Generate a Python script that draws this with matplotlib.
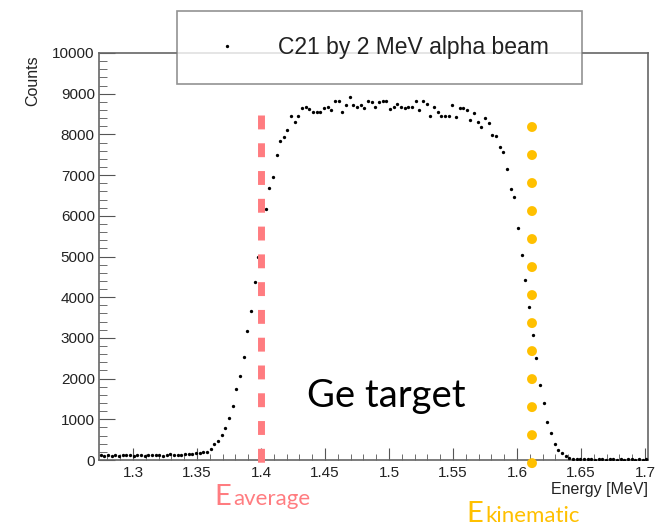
import numpy as np
import matplotlib
matplotlib.use("Agg")
import matplotlib.pyplot as plt
from matplotlib.ticker import MultipleLocator, FuncFormatter

# histogram binning (MeV)
e_min, e_max, n_bins = 1.2734, 1.7023, 150

# counts per bin
counts = [
    120, 110, 115, 105, 120, 110, 125, 130, 115, 110,
    120, 125, 110, 120, 130, 115, 125, 105, 130, 140,
    125, 135, 130, 140, 145, 150, 175, 180, 185,
    # rising edge
    200, 270, 390, 470, 610, 780, 1030, 1330, 1740, 2060,
    2530, 3170, 3660, 4370, 5000, 5550, 6170, 6680, 6950, 7490,
    7840, 7930, 8110, 8450, 8300, 8450,
    # plateau
    8640, 8680, 8620, 8560, 8540, 8540, 8640, 8670, 8600, 8820,
    8810, 8560, 8720, 8930, 8720, 8680, 8720, 8640, 8820, 8790,
    8670, 8790, 8820, 8820, 8620, 8680, 8750, 8680, 8650, 8680,
    8670, 8810, 8600, 8810, 8750, 8450, 8680, 8560, 8450, 8450,
    8450, 8720, 8420, 8650, 8640, 8600, 8350, 8530, 8300, 8190,
    8400, 8270, 7990, 7960, 7700, 7570,
    # falling edge
    7150, 6660, 6460, 5700, 5040, 4420, 3760, 3070, 2500, 1840,
    1400, 930, 660, 390, 250, 170, 90, 50,
    # tail
    35, 25, 20, 15, 20, 15, 10, 20, 15, 10,
    15, 20, 10, 15, 10, 20, 15, 10, 15, 10, 15,
]

e_average = 1.40
e_kinematic = 1.612

W, H = 657, 530


def fx(px):
    return px / W


def fy(py):
    return 1 - py / H


def main():
    plt.rcParams['font.family'] = ['Liberation Sans', 'DejaVu Sans']
    fig = plt.figure(figsize=(W / 100, H / 100), dpi=100)
    ax = fig.add_axes([fx(99), fy(460), (648 - 99) / W, (460 - 53) / H])

    edges = np.linspace(e_min, e_max, n_bins + 1)
    centers = 0.5 * (edges[1:] + edges[:-1])
    ax.plot(centers, counts, 'o', ms=2.4, color='black', mec='none',
            label='C21 by 2 MeV alpha beam', zorder=3)

    # marker lines
    ax.plot([e_average, e_average], [8480, -120], color='#FF7C80', lw=5,
            linestyle=(0, (2, 2)), dash_capstyle='butt', clip_on=False, zorder=4)
    ax.plot([e_kinematic, e_kinematic], [8190, -140], color='#FFC000', lw=7.2,
            linestyle=(0, (0.001, 2.8)), dash_capstyle='round', clip_on=False, zorder=4)

    ax.set_xlim(e_min, e_max)
    ax.set_ylim(0, 10000)
    ax.xaxis.set_major_locator(MultipleLocator(0.05))
    ax.xaxis.set_minor_locator(MultipleLocator(0.01))
    ax.yaxis.set_major_locator(MultipleLocator(1000))
    ax.yaxis.set_minor_locator(MultipleLocator(200))
    ax.xaxis.set_major_formatter(FuncFormatter(lambda v, p: '%g' % round(v, 3)))
    ax.yaxis.set_major_formatter(FuncFormatter(lambda v, p: '%d' % v))

    ax.tick_params(which='both', direction='in', top=False, right=False,
                   color='#555555', labelcolor='#222222', labelsize=11)
    ax.tick_params(axis='x', which='major', length=8.6, pad=4)
    ax.tick_params(axis='x', which='minor', length=4.3)
    ax.tick_params(axis='y', which='major', length=11.5, pad=3)
    ax.tick_params(axis='y', which='minor', length=5.8)
    for sp in ax.spines.values():
        sp.set_color('#666666')
        sp.set_linewidth(1.2)

    ax.set_ylabel('Counts', loc='top', fontsize=11.5, color='#222222')
    ax.yaxis.set_label_coords(-0.1075, 0.995)
    ax.set_xlabel('Energy [MeV]', loc='right', fontsize=11.5, color='#222222')
    ax.xaxis.set_label_coords(1.0, -0.054)

    leg = fig.legend(loc='center', bbox_to_anchor=(fx(177), fy(86), (582 - 177) / W, 77 / H),
                     mode='expand', fontsize=16.5, frameon=True, fancybox=False,
                     edgecolor='#777777', borderpad=1.1, handlelength=2.2,
                     handletextpad=1.1, numpoints=1, borderaxespad=0)
    leg.get_frame().set_linewidth(1.2)
    for t in leg.get_texts():
        t.set_color('#222222')

    # annotations
    fig.text(fx(307), fy(407), 'Ge target', fontsize=27.5, family='Lato',
             va='baseline', ha='left', color='black')
    fig.text(fx(214), fy(505), 'E', fontsize=21, family='Lato',
             va='baseline', color='#FF7C80')
    fig.text(fx(233), fy(505), 'average', fontsize=16, family='Lato',
             va='baseline', color='#FF7C80')
    fig.text(fx(466), fy(522), 'E', fontsize=21, family='Lato',
             va='baseline', color='#FFC000')
    fig.text(fx(485), fy(522), 'kinematic', fontsize=16, family='Lato',
             va='baseline', color='#FFC000')

    fig.savefig('out.png', dpi=100)


if __name__ == "__main__":
    main()
